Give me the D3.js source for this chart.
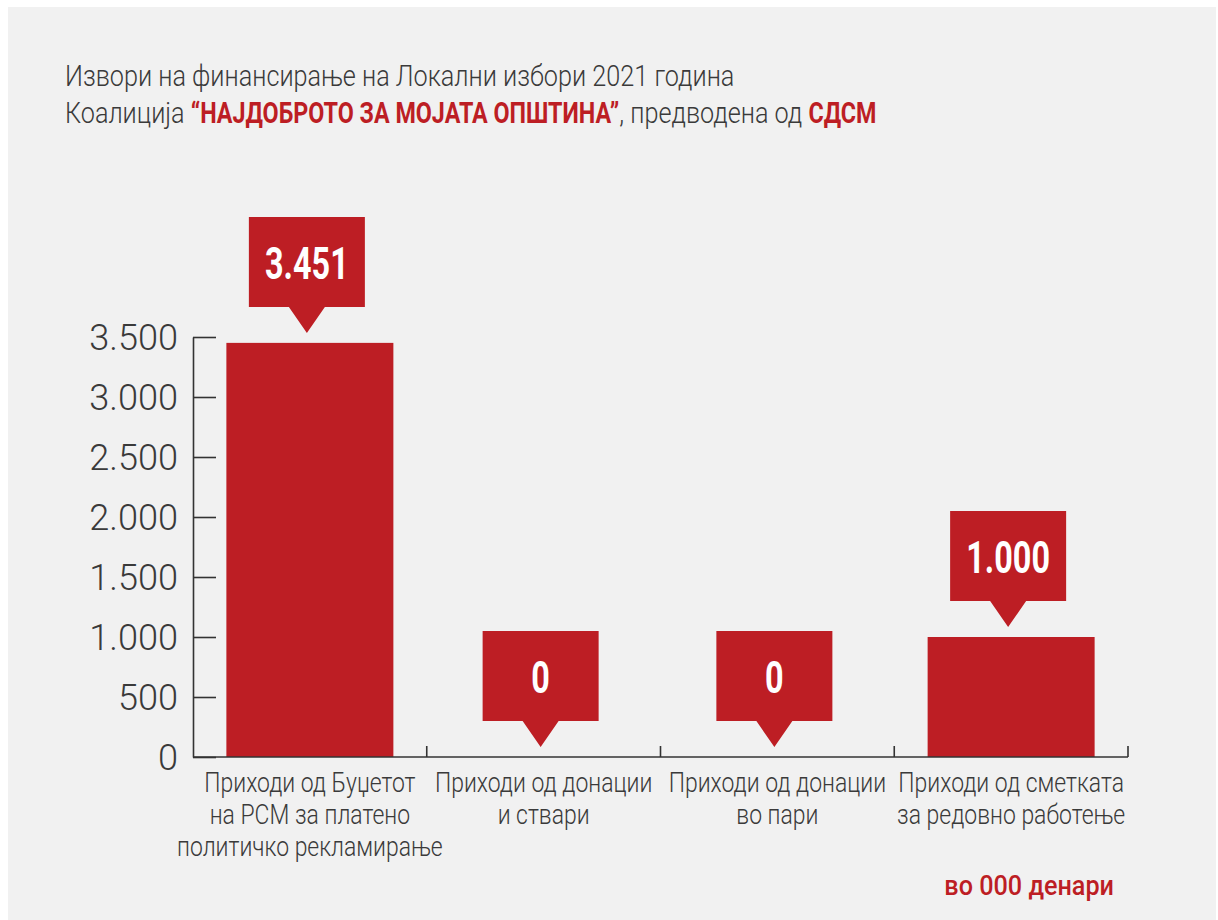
<!DOCTYPE html>
<html><head><meta charset="utf-8">
<script src="https://cdn.jsdelivr.net/npm/d3@7"></script>
<style>
html,body{margin:0;padding:0;background:#fff;}
svg{display:block;}
</style></head>
<body>
<svg id="chart" width="1218" height="920"></svg>
<script>
// ---- data ----
const categories = ["budget", "goods", "money", "account"];
const categoryLabels = [
  ["Приходи од Буџетот", "на РСМ за платено", "политичко рекламирање"],
  ["Приходи од донации", "и ствари"],
  ["Приходи од донации", "во пари"],
  ["Приходи од сметката", "за редовно работење"]
];
const values = [3451, 0, 0, 1000];
const valueLabels = ["3.451", "0", "0", "1.000"];
const yTicks = [0, 500, 1000, 1500, 2000, 2500, 3000, 3500];
const titleLine1 = "Извори на финансирање на Локални избори 2021 година";
const titleLine2 = [
  {t: "Коалиција ", bold: false},
  {t: "“НАЈДОБРОТО ЗА МОЈАТА ОПШТИНА”", bold: true},
  {t: ", предводена од ", bold: false},
  {t: "СДСМ", bold: true}
];
const unitNote = "во 000 денари";

// ---- styles ----
const RED = "#bd1e24";
const TEXT = "#3a3a3a";
const FONT = "Roboto, 'Noto Sans', sans-serif";
const LIGHT_SX = 0.855, BOLD_SX = 0.79;

const svg = d3.select("#chart");
svg.append("rect").attr("x", 8).attr("y", 7).attr("width", 1208).attr("height", 913).attr("fill", "#f1f1f1");

// condensed text helper
function ctext(parent, x, y, str, o) {
  const g = parent.append("g").attr("transform", `translate(${x},${y}) scale(${o.sx},1)`);
  const t = g.append("text")
    .attr("font-family", FONT)
    .attr("font-size", o.size)
    .attr("font-weight", o.weight)
    .attr("fill", o.fill)
    .attr("text-anchor", o.anchor || "start")
    .style("white-space", "pre")
    .text(str);
  return {g, t, w: t.node().getComputedTextLength() * o.sx};
}

// ---- title ----
ctext(svg, 65, 86, titleLine1, {sx: LIGHT_SX, size: 29.5, weight: 300, fill: TEXT});
let cx = 65;
titleLine2.forEach(s => {
  const r = ctext(svg, cx, 123, s.t, s.bold
    ? {sx: BOLD_SX, size: 29.5, weight: 700, fill: RED}
    : {sx: LIGHT_SX, size: 29.5, weight: 300, fill: TEXT});
  cx += r.w;
});

// ---- scales ----
const x = d3.scaleBand().domain(categories).range([193, 1128]).paddingInner(0.2856).paddingOuter(0.1428);
const y = d3.scaleLinear().domain([0, 3500]).range([757, 337]);

// ---- y axis ----
const fmt = d3.formatLocale({decimal: ",", thousands: ".", grouping: [3], currency: ["", ""]}).format(",");
const yAxis = svg.append("g").attr("transform", "translate(193,0)")
  .call(d3.axisLeft(y).tickValues(yTicks).tickFormat(fmt).tickSizeInner(-23).tickSizeOuter(0).tickPadding(15));
yAxis.select(".domain").attr("stroke", "#333").attr("stroke-width", 1.6);
yAxis.selectAll(".tick line").attr("stroke", "#333").attr("stroke-width", 1.6);
yAxis.selectAll(".tick text").remove();
yTicks.forEach(v => {
  ctext(svg, 178, y(v) + 13, fmt(v), {sx: 0.975, size: 37, weight: 300, fill: TEXT, anchor: "end"});
});

// ---- bars ----
svg.append("g").selectAll("rect").data(categories).join("rect")
  .attr("x", d => x(d))
  .attr("width", x.bandwidth())
  .attr("y", (d, i) => y(values[i]))
  .attr("height", (d, i) => y(0) - y(values[i]))
  .attr("fill", RED);

// ---- x axis ----
const step = x.step();
svg.append("line").attr("x1", 193).attr("x2", 1128).attr("y1", 757).attr("y2", 757)
  .attr("stroke", "#333").attr("stroke-width", 1.6);
categories.forEach(d => {
  const bx = x(d) + x.bandwidth() + (step - x.bandwidth()) / 2;
  svg.append("line").attr("x1", bx).attr("x2", bx).attr("y1", 757).attr("y2", 746)
    .attr("stroke", "#333").attr("stroke-width", 1.6);
});

// category labels
categories.forEach((d, i) => {
  const c = x(d) + x.bandwidth() / 2;
  categoryLabels[i].forEach((line, j) => {
    ctext(svg, c, 792 + j * 32, line, {sx: 0.85, size: 27, weight: 300, fill: TEXT, anchor: "middle"});
  });
});

// ---- callouts ----
const boxW = 116, boxH = 90, ptrH = 26, ptrW = 36, gap = 10;
categories.forEach((d, i) => {
  const c = x(d) + x.bandwidth() / 2 - 3;
  const apex = y(values[i]) - gap;
  const bottom = apex - ptrH;
  const top = bottom - boxH;
  const p = d3.path();
  p.moveTo(c - boxW / 2, top);
  p.lineTo(c + boxW / 2, top);
  p.lineTo(c + boxW / 2, bottom);
  p.lineTo(c + ptrW / 2, bottom);
  p.lineTo(c, apex);
  p.lineTo(c - ptrW / 2, bottom);
  p.lineTo(c - boxW / 2, bottom);
  p.closePath();
  svg.append("path").attr("d", p.toString()).attr("fill", RED);
  ctext(svg, c, top + boxH / 2 + 17, valueLabels[i], {sx: 0.72, size: 45, weight: 700, fill: "#fff", anchor: "middle"});
});

// ---- unit note ----
ctext(svg, 1114, 895, unitNote, {sx: 0.9, size: 28, weight: 500, fill: RED, anchor: "end"});
</script>
</body></html>
